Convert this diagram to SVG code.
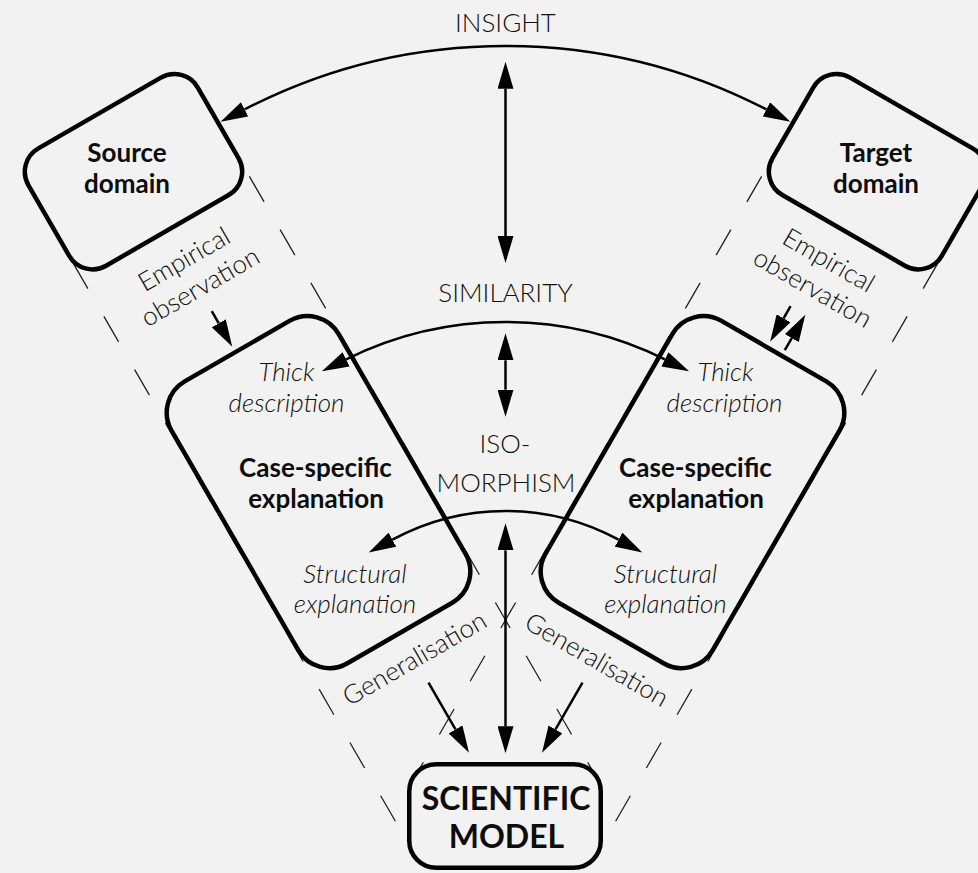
<svg xmlns="http://www.w3.org/2000/svg" width="978" height="873" viewBox="0 0 978 873">
  <style>
    .bg { fill: #f2f2f2; }
    .box { fill: #f2f2f2; stroke: #000; stroke-width: 4.5; }
    .guide { fill: none; stroke: #222; stroke-width: 1.3; stroke-dasharray: 29.5 32; }
    .arr { fill: none; stroke: #000; stroke-width: 2.5; }
    text { font-family: Lato, "Open Sans", sans-serif; fill: #111; text-anchor: middle; }
    .lt { font-weight: 300; font-size: 26px; }
    .it { font-weight: 300; font-style: italic; font-size: 26px; }
    .bd { font-weight: 700; font-size: 26px; fill: #0d0d0d; }
    .big { font-weight: 700; font-size: 32px; fill: #0d0d0d; }
  </style>
  <defs>
    <!-- arrowhead: base sits on the path end, tip extends beyond it -->
    <marker id="head" viewBox="0 -8 27 16" refX="0" refY="0" markerWidth="27" markerHeight="16"
            markerUnits="userSpaceOnUse" orient="auto-start-reverse">
      <path d="M0,-8 L27,0 L0,8 Z" fill="#000"/>
    </marker>
  </defs>

  <rect class="bg" x="0" y="0" width="978" height="873"/>

  <!-- dashed guides bounding the two branches (frames rotated about the model centre) -->
  <g id="guides">
    <g transform="translate(505.5 816) rotate(-30)">
      <path class="guide" d="M-98,-695 V-45"/>
      <path class="guide" d="M98,-682 V25"/>
    </g>
    <g transform="translate(505.5 816) rotate(30)">
      <path class="guide" d="M98,-695 V-45"/>
      <path class="guide" d="M-98,-682 V25"/>
    </g>
  </g>

  <!-- nodes -->
  <g id="source-domain">
    <rect class="box" transform="translate(505.5 816) rotate(-30)" x="-97.75" y="-811.75" width="195.5" height="135.5" rx="27"/>
    <text class="bd" x="127" y="162">Source</text>
    <text class="bd" x="127" y="192.5">domain</text>
  </g>

  <g id="target-domain">
    <rect class="box" transform="translate(505.5 816) rotate(30)" x="-97.75" y="-811.75" width="195.5" height="135.5" rx="27"/>
    <text class="bd" x="876" y="162">Target</text>
    <text class="bd" x="876" y="192.5">domain</text>
  </g>

  <g id="case-left">
    <rect class="box" transform="translate(505.5 816) rotate(-30)" x="-96.5" y="-536.75" width="193" height="325.5" rx="36"/>
    <text class="it" x="286.5" y="381">Thick</text>
    <text class="it" x="286.5" y="411.5">description</text>
    <text class="bd" x="315.5" y="476.5">Case-specific</text>
    <text class="bd" x="316" y="508">explanation</text>
    <text class="it" x="355" y="582.5">Structural</text>
    <text class="it" x="355" y="613">explanation</text>
  </g>

  <g id="case-right">
    <rect class="box" transform="translate(505.5 816) rotate(30)" x="-96.5" y="-536.75" width="193" height="325.5" rx="36"/>
    <text class="it" x="725.5" y="381">Thick</text>
    <text class="it" x="724.5" y="411.5">description</text>
    <text class="bd" x="695.5" y="476.5">Case-specific</text>
    <text class="bd" x="696" y="508">explanation</text>
    <text class="it" x="665.5" y="582.5">Structural</text>
    <text class="it" x="665.5" y="613">explanation</text>
  </g>

  <g id="scientific-model">
    <rect class="box" x="409.25" y="764.25" width="191.5" height="103.5" rx="27"/>
    <text class="big" x="506" y="810">SCIENTIFIC</text>
    <text class="big" x="506.5" y="848">MODEL</text>
  </g>

  <!-- connectors -->
  <g id="connectors">
    <path class="arr" d="M244.6,109.4 A568,568 0 0 1 766.4,109.4" marker-start="url(#head)" marker-end="url(#head)"/>
    <path class="arr" d="M346.1,359.3 A359,359 0 0 1 664.9,359.3" marker-start="url(#head)" marker-end="url(#head)"/>
    <path class="arr" d="M392.4,539.7 A237,237 0 0 1 618.6,539.7" marker-start="url(#head)" marker-end="url(#head)"/>

    <path class="arr" d="M505.5,88.7 V236" marker-start="url(#head)" marker-end="url(#head)"/>
    <path class="arr" d="M505.5,360.3 V389.7" marker-start="url(#head)" marker-end="url(#head)"/>
    <path class="arr" d="M505.5,550.3 V726.3" marker-start="url(#head)" marker-end="url(#head)"/>

    <g transform="translate(505.5 816) rotate(-30)">
      <path class="arr" d="M-2,-584 V-570" marker-end="url(#head)"/>
      <path class="arr" d="M0,-154 V-100" marker-end="url(#head)"/>
    </g>
    <g transform="translate(505.5 816) rotate(30)">
      <path class="arr" d="M-8,-584 V-570" marker-end="url(#head)"/>
      <path class="arr" d="M9,-543 V-557" marker-end="url(#head)"/>
      <path class="arr" d="M0,-154 V-100" marker-end="url(#head)"/>
    </g>
  </g>

  <!-- relation labels -->
  <g id="labels">
    <text class="lt" x="505.5" y="32">INSIGHT</text>
    <text class="lt" x="505.5" y="302">SIMILARITY</text>
    <text class="lt" x="505" y="453">ISO-</text>
    <text class="lt" x="506" y="491.5">MORPHISM</text>
    <g transform="translate(505.5 816) rotate(-30)">
      <text class="lt" x="0" y="-634">Empirical</text>
      <text class="lt" x="0" y="-602">observation</text>
      <text class="lt" x="0" y="-173">Generalisation</text>
    </g>
    <g transform="translate(505.5 816) rotate(30)">
      <text class="lt" x="2" y="-634">Empirical</text>
      <text class="lt" x="2" y="-602">observation</text>
      <text class="lt" x="1" y="-172">Generalisation</text>
    </g>
  </g>
</svg>
